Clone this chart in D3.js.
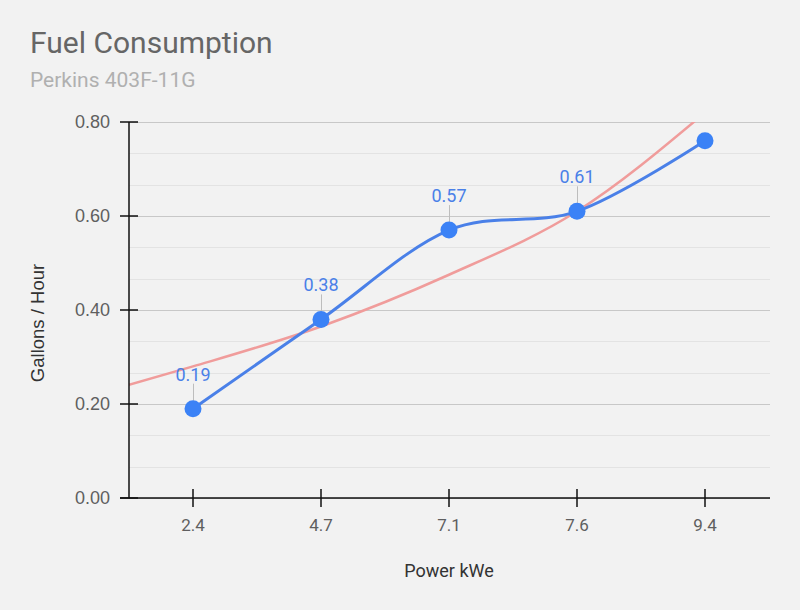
<!DOCTYPE html>
<html>
<head>
<meta charset="utf-8">
<script src="https://cdn.jsdelivr.net/npm/d3@7"></script>
<style>
  body { margin: 0; background: #f2f2f2; }
  svg { display: block; font-family: Roboto, "Noto Sans", sans-serif; }
</style>
</head>
<body>
<svg id="chart" width="800" height="610"></svg>
<script>
// data
const powerLabels = ["2.4", "4.7", "7.1", "7.6", "9.4"];
const gallons = [0.19, 0.38, 0.57, 0.61, 0.76];
const shownLabels = ["0.19", "0.38", "0.57", "0.61", null];
// trendline (position in category steps, value)
const trendPos = [-0.5, 0, 1, 2, 3, 4];
const trendVal = [0.241, 0.28, 0.365, 0.475, 0.61, 0.82];
const yTicks = [0, 0.2, 0.4, 0.6, 0.8];

const svg = d3.select("#chart"),
  width = +svg.attr("width"),
  height = +svg.attr("height");

const plotLeft = 129, plotRight = 769, plotTop = 122, plotBottom = 498;

const x = d3.scalePoint().domain(powerLabels).range([plotLeft, plotRight]).padding(0.5);
const step = x.step();
const xi = i => x(powerLabels[0]) + i * step;
const y = d3.scaleLinear().domain([0, 0.8]).range([plotBottom, plotTop]);

svg.append("rect").attr("width", width).attr("height", height).attr("fill", "#f2f2f2");

// titles
svg.append("text").attr("x", 30).attr("y", 53)
  .attr("font-size", 30).attr("fill", "#666").text("Fuel Consumption");
svg.append("text").attr("x", 30).attr("y", 87)
  .attr("font-size", 21).attr("fill", "#b0b0b0").text("Perkins 403F-11G");

// gridlines: minor every third of a major step
const minor = d3.range(0, 0.8001, 0.2 / 3);
svg.append("g").selectAll("line").data(minor).enter().append("line")
  .attr("x1", plotLeft).attr("x2", plotRight + 1)
  .attr("y1", d => Math.round(y(d)) + 0.5).attr("y2", d => Math.round(y(d)) + 0.5)
  .attr("stroke", "#e3e3e3");
svg.append("g").selectAll("line").data(yTicks).enter().append("line")
  .attr("x1", plotLeft).attr("x2", plotRight + 1)
  .attr("y1", d => Math.round(y(d)) + 0.5).attr("y2", d => Math.round(y(d)) + 0.5)
  .attr("stroke", "#c8c8c8");

// trendline, clipped to the plot
svg.append("clipPath").attr("id", "plot")
  .append("rect").attr("x", plotLeft).attr("y", plotTop)
  .attr("width", plotRight - plotLeft).attr("height", plotBottom - plotTop);
const trendLine = d3.line()
  .x((d, i) => xi(trendPos[i]))
  .y(d => y(d))
  .curve(d3.curveMonotoneX);
svg.append("path").datum(trendVal)
  .attr("clip-path", "url(#plot)")
  .attr("d", trendLine)
  .attr("fill", "none").attr("stroke", "#f09c9b").attr("stroke-width", 2.5);

// axes
const yAxis = svg.append("g");
yAxis.append("line").attr("x1", plotLeft).attr("x2", plotLeft).attr("y1", plotTop).attr("y2", plotBottom)
  .attr("stroke", "#111").attr("stroke-width", 1.5);
yAxis.selectAll("line.tick").data(yTicks).enter().append("line").attr("class", "tick")
  .attr("x1", plotLeft - 9).attr("x2", plotLeft + 9)
  .attr("y1", d => y(d)).attr("y2", d => y(d))
  .attr("stroke", "#111").attr("stroke-width", 1.5);
yAxis.selectAll("text").data(yTicks).enter().append("text")
  .attr("x", 110).attr("y", d => y(d)).attr("dy", "0.35em")
  .attr("text-anchor", "end").attr("font-size", 18).attr("fill", "#5f5f5f")
  .attr("font-family", "'Liberation Sans', Arial, sans-serif")
  .text(d => d3.format(".2f")(d));

const xAxis = svg.append("g");
xAxis.append("line").attr("x1", 120).attr("x2", 770).attr("y1", plotBottom).attr("y2", plotBottom)
  .attr("stroke", "#111").attr("stroke-width", 1.5);
xAxis.selectAll("line.tick").data(powerLabels).enter().append("line").attr("class", "tick")
  .attr("x1", d => x(d)).attr("x2", d => x(d))
  .attr("y1", plotBottom - 9).attr("y2", plotBottom + 9)
  .attr("stroke", "#111").attr("stroke-width", 1.5);
xAxis.selectAll("text").data(powerLabels).enter().append("text")
  .attr("x", d => x(d)).attr("y", 531)
  .attr("text-anchor", "middle").attr("font-size", 17).attr("fill", "#5f5f5f")
  .text(d => d);

// axis titles
svg.append("text").attr("transform", "translate(44,323) rotate(-90)")
  .attr("text-anchor", "middle").attr("font-size", 18.5).attr("fill", "#333")
  .attr("font-family", "'Liberation Sans', Arial, sans-serif")
  .text("Gallons / Hour");
svg.append("text").attr("x", 449).attr("y", 577)
  .attr("text-anchor", "middle").attr("font-size", 18).attr("fill", "#333")
  .text("Power kWe");

// series line
const line = d3.line()
  .x((d, i) => x(powerLabels[i]))
  .y(d => y(d))
  .curve(d3.curveCatmullRom.alpha(0));
svg.append("path").datum(gallons)
  .attr("d", line)
  .attr("fill", "none").attr("stroke", "#4a80e8").attr("stroke-width", 3);

// annotation stems and labels
const ann = svg.append("g");
gallons.forEach((v, i) => {
  if (!shownLabels[i]) return;
  const px = x(powerLabels[i]), py = y(v);
  ann.append("line").attr("x1", px + 0.5).attr("x2", px + 0.5)
    .attr("y1", py - 25).attr("y2", py - 8)
    .attr("stroke", "#bdbdbd").attr("stroke-width", 1);
  ann.append("text").attr("x", px).attr("y", py - 28)
    .attr("text-anchor", "middle").attr("font-size", 18).attr("fill", "#4a80e8")
    .text(shownLabels[i]);
});

// points
svg.append("g").selectAll("circle").data(gallons).enter().append("circle")
  .attr("cx", (d, i) => x(powerLabels[i]))
  .attr("cy", d => y(d))
  .attr("r", 8.5)
  .attr("fill", "#3b82f6");
</script>
</body>
</html>
